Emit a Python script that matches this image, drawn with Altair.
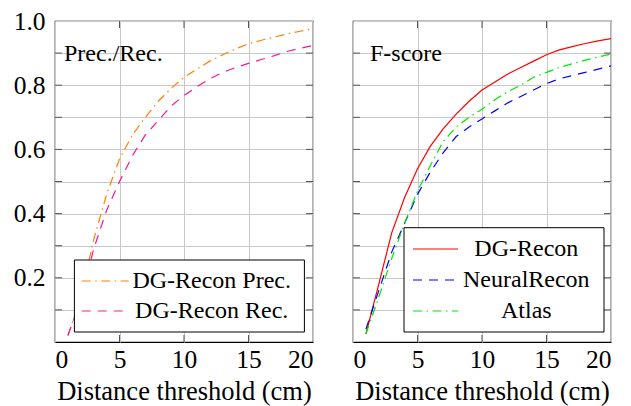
import altair as alt
import pandas as pd

# ---------------- data ----------------
thresholds = list(range(1, 21))
dg_prec = [0.02, 0.14, 0.32, 0.46, 0.57, 0.645, 0.70, 0.75, 0.79, 0.825,
           0.85, 0.875, 0.895, 0.913, 0.929, 0.94, 0.95, 0.96, 0.968, 0.975]
dg_rec = [0.02, 0.13, 0.29, 0.41, 0.50, 0.58, 0.645, 0.69, 0.735, 0.768,
          0.795, 0.82, 0.84, 0.855, 0.868, 0.88, 0.892, 0.905, 0.915, 0.924]
f_dgrecon = [0.025, 0.18, 0.34, 0.45, 0.54, 0.61, 0.665, 0.71, 0.75, 0.785,
             0.81, 0.835, 0.855, 0.875, 0.895, 0.91, 0.92, 0.93, 0.938, 0.945]
f_neuralrecon = [0.04, 0.16, 0.28, 0.37, 0.46, 0.53, 0.59, 0.64, 0.67, 0.695,
                 0.72, 0.745, 0.765, 0.785, 0.805, 0.82, 0.83, 0.84, 0.85, 0.86]
f_atlas = [0.025, 0.14, 0.26, 0.37, 0.47, 0.55, 0.625, 0.67, 0.70, 0.725,
           0.755, 0.78, 0.80, 0.825, 0.84, 0.855, 0.867, 0.878, 0.888, 0.897]

x_ticks = [0, 5, 10, 15, 20]
y_grid = [0.1, 0.2, 0.3, 0.4, 0.5, 0.6, 0.7, 0.8, 0.9, 1.0]
inner_x_ticks = [5, 10, 15]
inner_y_ticks = [0.1, 0.2, 0.3, 0.4, 0.5, 0.6, 0.7, 0.8, 0.9]

left_series = [
    ("DG-Recon Prec.", dg_prec, "#ff8000", [9, 4.5, 1.5, 4.5]),
    ("DG-Recon Rec.", dg_rec, "#ff1493", [9, 7]),
]
right_series = [
    ("DG-Recon", f_dgrecon, "#ff0000", None),
    ("NeuralRecon", f_neuralrecon, "#0000ff", [9, 7]),
    ("Atlas", f_atlas, "#00e800", [9, 4.5, 1.5, 4.5]),
]

W, H = 258, 321
FONT = "'Liberation Serif', 'Times New Roman', Times, serif"

xscale = alt.Scale(domain=[0, 20], nice=False, zero=False)
yscale = alt.Scale(domain=[0, 1], nice=False)


def x_enc():
    return alt.X("t:Q", scale=xscale,
                 axis=alt.Axis(values=x_ticks, title="Distance threshold (cm)",
                               format="d", grid=True, ticks=False, domain=False,
                               labelPadding=5, titlePadding=6, labelOverlap=False))


def y_enc(show_labels):
    return alt.Y("v:Q", scale=yscale,
                 axis=alt.Axis(values=y_grid, title=None, grid=True, ticks=False,
                               domain=False, labels=show_labels, labelPadding=10,
                               labelOverlap=False,
                               labelExpr="round(datum.value*10) % 2 == 0 ? format(datum.value, '.1f') : ''"))


def tick_layers(show_labels):
    yt = pd.DataFrame({"v": inner_y_ticks})
    xt = pd.DataFrame({"t": inner_x_ticks})
    style = dict(color="#555555", strokeWidth=1)
    return [
        alt.Chart(yt).mark_rule(**style).encode(y=y_enc(show_labels), x=alt.value(0), x2=alt.value(7)),
        alt.Chart(yt).mark_rule(**style).encode(y=y_enc(show_labels), x=alt.value(W - 7), x2=alt.value(W)),
        alt.Chart(xt).mark_rule(**style).encode(x=x_enc(), y=alt.value(H - 7), y2=alt.value(H)),
        alt.Chart(xt).mark_rule(**style).encode(x=x_enc(), y=alt.value(0), y2=alt.value(7)),
    ]


def series_layers(series, show_labels):
    layers = []
    for name, vals, color, dash in series:
        df = pd.DataFrame({"t": thresholds, "v": vals, "s": name})
        kw = dict(color=color, strokeWidth=1.2, clip=True)
        if dash:
            kw["strokeDash"] = dash
        layers.append(alt.Chart(df).mark_line(**kw).encode(x=x_enc(), y=y_enc(show_labels)))
    return layers


def legend_layers(series, box, sample_x, text_x, rows):
    x1, x2, y1, y2 = box
    one = pd.DataFrame({"label": [""]})
    layers = [alt.Chart(one).mark_rect(fill="white", stroke="black", strokeWidth=1).encode(
        x=alt.value(x1), x2=alt.value(x2), y=alt.value(y1), y2=alt.value(y2))]
    for (name, vals, color, dash), ry in zip(series, rows):
        d = pd.DataFrame({"label": [name]})
        kw = dict(color=color, strokeWidth=1.2)
        if dash:
            kw["strokeDash"] = dash
        layers.append(alt.Chart(d).mark_rule(**kw).encode(
            x=alt.value(sample_x[0]), x2=alt.value(sample_x[1]), y=alt.value(ry)))
        layers.append(alt.Chart(d).mark_text(font=FONT, fontSize=24, align="center",
                                             baseline="middle", color="black").encode(
            x=alt.value(text_x), y=alt.value(ry), text="label:N"))
    return layers


def label_layer(text, x, y):
    d = pd.DataFrame({"label": [text]})
    return alt.Chart(d).mark_text(font=FONT, fontSize=24, align="left",
                                  baseline="alphabetic", color="black").encode(
        x=alt.value(x), y=alt.value(y), text="label:N")


left = alt.layer(
    *series_layers(left_series, True),
    *tick_layers(True),
    *legend_layers(left_series, (19.4, 249.4, 239, 311), (26.7, 73.7), 156.7, [260, 290]),
    label_layer("Prec./Rec.", 9, 40),
).properties(width=W, height=H)

right = alt.layer(
    *series_layers(right_series, False),
    *tick_layers(False),
    *legend_layers(right_series, (51, 251, 206.7, 311), (60, 105), 173.3, [228, 259, 290]),
    label_layer("F-score", 17, 40),
).properties(width=W, height=H)

chart = alt.hconcat(left, right, spacing=40, bounds="flush").properties(
    padding={"left": 4, "top": 0, "right": 5, "bottom": 0}
).configure_axis(
    labelFont=FONT, labelFontSize=25.5, labelColor="black",
    titleFont=FONT, titleFontSize=26.5, titleColor="black", titleFontWeight="normal",
    gridColor="#c8c8c8", gridWidth=1,
).configure_view(stroke="black", strokeWidth=1.2)

chart.save("out.html", embed_options={"renderer": "svg", "actions": False})
